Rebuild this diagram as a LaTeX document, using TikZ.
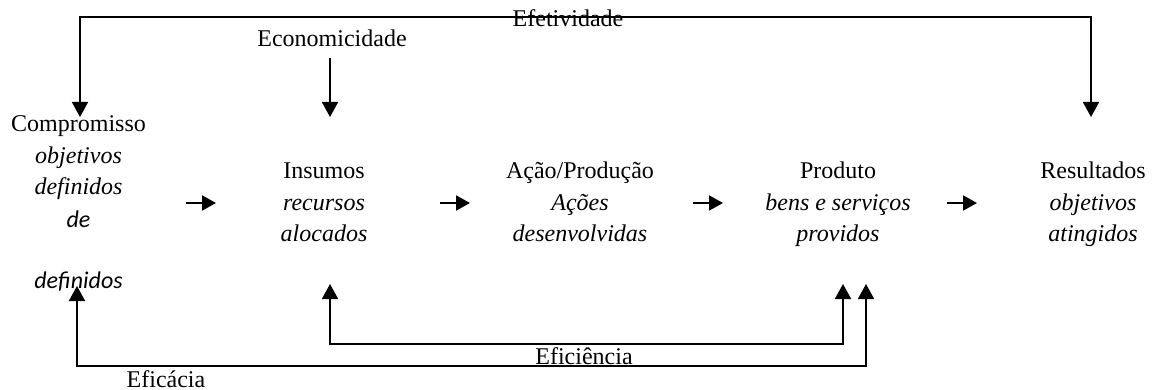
\documentclass[tikz,border=0pt]{standalone}
\usepackage{fontspec}
\setmainfont{Liberation Serif}
\newfontfamily\calib{Carlito}
\usetikzlibrary{arrows.meta}
\begin{document}
\begin{tikzpicture}[x=1pt,y=-1pt,
  lbl/.style={anchor=base, inner sep=0pt, font=\fontsize{24}{31.5}\selectfont, align=center},
  sanslbl/.style={anchor=base, inner sep=0pt, font=\fontsize{24}{31.5}\selectfont\calib\itshape},
  flow/.style={line width=2pt, -{Triangle[length=14pt,width=15pt]}},
  link/.style={line width=1.8pt, {Triangle[length=15pt,width=16pt]}-{Triangle[length=15pt,width=16pt]}},
  single/.style={line width=1.8pt, -{Triangle[length=15pt,width=16pt]}}]
\useasboundingbox (0,0) rectangle (1154,390);
% text blocks (anchor base = baseline of last line)
\node[lbl] (comp) at (78.5,195) {Compromisso\\ \textit{objetivos}\\ \textit{definidos}};
\node[sanslbl] (de) at (78.5,228) {de};
\node[sanslbl] (def) at (78.5,288) {definidos};
\node[lbl] (ins) at (324,242) {Insumos\\ \textit{recursos}\\ \textit{alocados}};
\node[lbl] (acao) at (580,242) {Ação/Produção\\ \textit{Ações}\\ \textit{desenvolvidas}};
\node[lbl] (prod) at (838,242) {Produto\\ \textit{bens e serviços}\\ \textit{providos}};
\node[lbl] (res) at (1093,242) {Resultados\\ \textit{objetivos}\\ \textit{atingidos}};
\node[lbl] (efet) at (568,27) {Efetividade};
\node[lbl] (econ) at (332,47) {Economicidade};
\node[lbl] (efic) at (584,364) {Eficiência};
\node[lbl] (eficac) at (166,387) {Eficácia};
% anchor points
\coordinate (compTop) at (80,117);
\coordinate (resTop) at (1091,117);
\coordinate (insTop) at (330,117);
\coordinate (econBot) at (330,58);
\coordinate (insBot) at (330,284);
\coordinate (defBot) at (77,286);
\coordinate (prodBotA) at (843,284);
\coordinate (prodBotB) at (866,284);
% flow arrows
\coordinate (f1a) at (186,203); \coordinate (f1b) at (216,203);
\coordinate (f2a) at (440,203); \coordinate (f2b) at (470,203);
\coordinate (f3a) at (693,203); \coordinate (f3b) at (723,203);
\coordinate (f4a) at (947,203); \coordinate (f4b) at (977,203);
\draw[flow] (f1a) -- (f1b);
\draw[flow] (f2a) -- (f2b);
\draw[flow] (f3a) -- (f3b);
\draw[flow] (f4a) -- (f4b);
% connectors
\draw[link] (compTop) -- (80,17) -- (1091,17) -- (resTop);
\draw[single] (econBot) -- (insTop);
\draw[link] (insBot) -- (330,344) -- (843,344) -- (prodBotA);
\draw[link] (defBot) -- (77,366) -- (866,366) -- (prodBotB);
\end{tikzpicture}
\end{document}
